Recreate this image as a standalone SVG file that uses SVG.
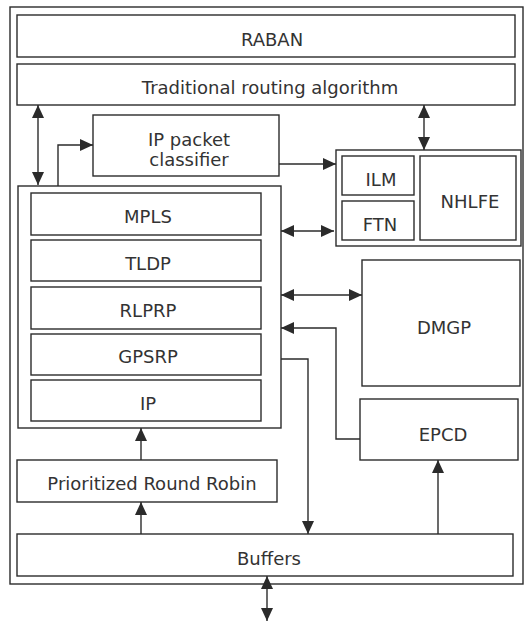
<svg xmlns="http://www.w3.org/2000/svg" width="528" height="624" viewBox="0 0 528 624">
<defs>
<style>
.b{fill:#fff;stroke:#2b2b2b;stroke-width:1.4}
.t{font-family:"DejaVu Sans",Verdana,sans-serif;font-size:18px;fill:#333;text-anchor:middle}
.c{fill:none;stroke:#2b2b2b;stroke-width:1.4}
</style>
<marker id="ah" viewBox="0 0 13 12" refX="13" refY="6" markerWidth="13" markerHeight="12" markerUnits="userSpaceOnUse" orient="auto-start-reverse">
<path d="M0,0 L13,6 L0,12 z" fill="#2b2b2b"/>
</marker>
</defs>
<rect x="0" y="0" width="528" height="624" fill="#fff"/>
<rect id="frame" class="b" x="10" y="7" width="513" height="577"/>

<g id="raban"><rect class="b" x="17" y="15" width="498" height="42"/><text class="t" x="272" y="46">RABAN</text></g>
<g id="routing"><rect class="b" x="17" y="64" width="498" height="41"/><text class="t" x="270" y="94">Traditional routing algorithm</text></g>
<g id="classifier"><rect class="b" x="93" y="115" width="186" height="61"/><text class="t" x="189" y="146">IP packet</text><text class="t" x="189" y="166">classifier</text></g>

<g id="tables"><rect class="b" x="336" y="150" width="185" height="96"/>
<g id="ilm"><rect class="b" x="342" y="156" width="72" height="39"/><text class="t" x="381" y="186">ILM</text></g>
<g id="ftn"><rect class="b" x="342" y="201" width="72" height="39"/><text class="t" x="380" y="231">FTN</text></g>
<g id="nhlfe"><rect class="b" x="420" y="156" width="96" height="84"/><text class="t" x="470" y="208">NHLFE</text></g>
</g>

<g id="stack"><rect class="b" x="18" y="186" width="263" height="242"/>
<g id="mpls"><rect class="b" x="31" y="193" width="230" height="42"/><text class="t" x="148" y="223">MPLS</text></g>
<g id="tldp"><rect class="b" x="31" y="240" width="230" height="41"/><text class="t" x="148" y="270">TLDP</text></g>
<g id="rlprp"><rect class="b" x="31" y="287" width="230" height="42"/><text class="t" x="148" y="317">RLPRP</text></g>
<g id="gpsrp"><rect class="b" x="31" y="334" width="230" height="41"/><text class="t" x="148" y="363">GPSRP</text></g>
<g id="ip"><rect class="b" x="31" y="380" width="230" height="41"/><text class="t" x="148" y="410">IP</text></g>
</g>

<g id="dmgp"><rect class="b" x="362" y="260" width="158" height="126"/><text class="t" x="444" y="334">DMGP</text></g>
<g id="epcd"><rect class="b" x="360" y="399" width="158" height="61"/><text class="t" x="443" y="441">EPCD</text></g>
<g id="prr"><rect class="b" x="17" y="460" width="260" height="42"/><text class="t" x="152" y="490">Prioritized Round Robin</text></g>
<g id="buffers"><rect class="b" x="17" y="534" width="496" height="42"/><text class="t" x="269" y="565">Buffers</text></g>

<g id="connectors">
<path class="c" d="M38,105 V185" marker-start="url(#ah)" marker-end="url(#ah)"/>
<path class="c" d="M58,186 V145 H93" marker-end="url(#ah)"/>
<path class="c" d="M279,164 H336" marker-end="url(#ah)"/>
<path class="c" d="M424,105 V150" marker-start="url(#ah)" marker-end="url(#ah)"/>
<path class="c" d="M281,231 H334" marker-start="url(#ah)" marker-end="url(#ah)"/>
<path class="c" d="M281,295 H362" marker-start="url(#ah)" marker-end="url(#ah)"/>
<path class="c" d="M360,439 H336 V328 H281" marker-end="url(#ah)"/>
<path class="c" d="M281,359 H308 V534" marker-end="url(#ah)"/>
<path class="c" d="M141,460 V428" marker-end="url(#ah)"/>
<path class="c" d="M141,534 V502" marker-end="url(#ah)"/>
<path class="c" d="M438,534 V460" marker-end="url(#ah)"/>
<path class="c" d="M267,576 V621" marker-start="url(#ah)" marker-end="url(#ah)"/>
</g>
</svg>
